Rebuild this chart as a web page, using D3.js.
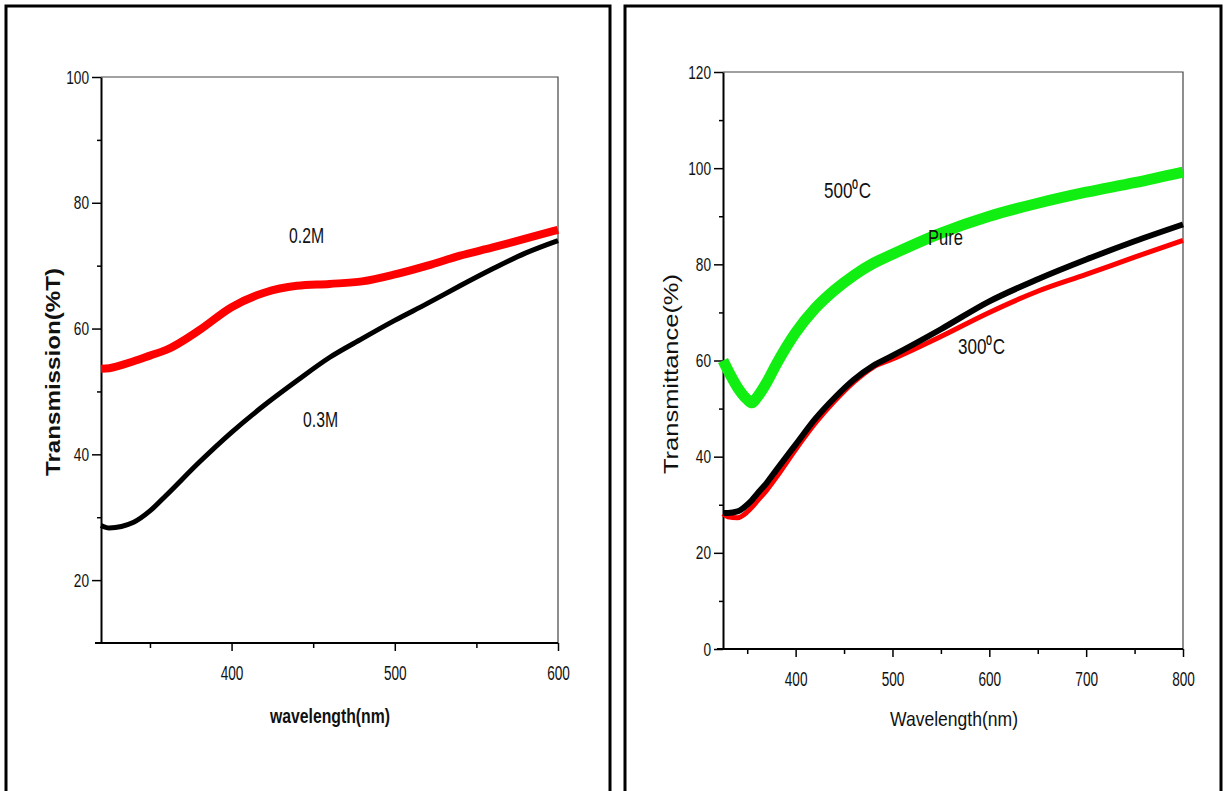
<!DOCTYPE html>
<html>
<head>
<meta charset="utf-8">
<style>
    body { margin: 0; background: #fff; }
    svg text { font-family: "Liberation Sans", Arial, sans-serif; fill: #111; }
    .axis path, .axis line { stroke: #000; }
    .frame { fill: none; stroke: #000; }
</style>
</head>
<body>
<svg id="chart" width="1225" height="791"></svg>
<script src="https://cdnjs.cloudflare.com/ajax/libs/d3/7.8.5/d3.min.js"></script>
<script>
// left panel: molarity
var leftWave = [320, 325, 340, 350, 360, 380, 400, 420, 440, 460, 480, 500, 520, 540, 560, 580, 600];
var red02M   = [53.6, 53.7, 54.8, 55.7, 56.6, 59.7, 63.4, 65.7, 66.8, 67.1, 67.5, 68.6, 70.0, 71.6, 72.9, 74.3, 75.7];
var black03M = [28.7, 28.3, 29.2, 31.0, 33.5, 38.7, 43.5, 47.8, 51.7, 55.4, 58.4, 61.3, 64.0, 66.8, 69.5, 72.0, 74.0];

// right panel: annealing
var rightWave = [325, 330, 340, 350, 355, 360, 370, 380, 400, 420, 440, 460, 480, 500, 550, 600, 650, 700, 750, 800];
var green500 = [60.0, 58.0, 54.4, 51.9, 51.2, 52.3, 55.4, 59.2, 65.8, 70.8, 74.6, 77.7, 80.2, 82.1, 86.5, 90.0, 92.7, 95.0, 97.0, 99.2];
var pure     = [28.3, 28.3, 28.6, 30.0, 31.0, 32.2, 34.5, 37.2, 42.5, 47.8, 52.2, 56.0, 58.9, 61.0, 66.5, 72.3, 76.9, 81.0, 84.8, 88.3];
var red300   = [28.1, 27.5, 27.3, 28.5, 29.5, 30.7, 33.0, 35.7, 41.5, 46.9, 51.5, 55.5, 58.6, 60.3, 65.0, 70.0, 74.4, 77.9, 81.5, 85.0];

var svg = d3.select('#chart');

// squeeze or stretch text to a given width (the original uses a narrow font)
function fit(sel, w) {
    sel.attr('textLength', w).attr('lengthAdjust', 'spacingAndGlyphs');
}
function squeeze(sel, k) {
    sel.each(function () {
        var len = this.getComputedTextLength();
        d3.select(this).attr('textLength', len * k).attr('lengthAdjust', 'spacingAndGlyphs');
    });
}

// outer panel borders
svg.append('rect').attr('class', 'frame').attr('x', 6).attr('y', 6).attr('width', 604).attr('height', 800).attr('stroke-width', 3);
svg.append('rect').attr('class', 'frame').attr('x', 625).attr('y', 6).attr('width', 596).attr('height', 800).attr('stroke-width', 3);

function panel(opt) {
    var x = d3.scaleLinear().domain(opt.xDomain).range([opt.x0, opt.x1]);
    var y = d3.scaleLinear().domain(opt.yDomain).range([opt.y1, opt.y0]);
    var g = svg.append('g');

    // top and right frame
    g.append('path')
        .attr('d', 'M' + opt.x0 + ',' + opt.y0 + 'H' + opt.x1 + 'V' + opt.y1)
        .attr('fill', 'none').attr('stroke', '#444').attr('stroke-width', 1.2);

    // minor ticks
    var xMinor = g.append('g').attr('class', 'axis').attr('transform', 'translate(0,' + opt.y1 + ')')
        .call(d3.axisBottom(x).tickValues(opt.xMinor).tickSize(5).tickFormat(''));
    xMinor.select('.domain').remove();
    xMinor.selectAll('line').attr('stroke-width', 1.5);
    var yMinor = g.append('g').attr('class', 'axis').attr('transform', 'translate(' + opt.x0 + ',0)')
        .call(d3.axisLeft(y).tickValues(opt.yMinor).tickSize(4).tickFormat(''));
    yMinor.select('.domain').remove();
    yMinor.selectAll('line').attr('stroke-width', 1.5);

    var xAxis = g.append('g').attr('class', 'axis').attr('transform', 'translate(0,' + opt.y1 + ')')
        .call(d3.axisBottom(x).tickValues(opt.xTicks).tickSize(8).tickSizeOuter(0).tickPadding(15).tickFormat(d3.format('d')));
    xAxis.select('.domain').attr('d', 'M' + (opt.x0 - 6) + ',0H' + opt.x1).attr('stroke-width', 2);
    xAxis.selectAll('line').attr('stroke-width', 1.5);
    xAxis.selectAll('text').attr('font-size', 20).style('font-family', null).attr('fill', '#111');
    squeeze(xAxis.selectAll('text'), 0.68);

    var yAxis = g.append('g').attr('class', 'axis').attr('transform', 'translate(' + opt.x0 + ',0)')
        .call(d3.axisLeft(y).tickValues(opt.yTicks).tickSize(9).tickSizeOuter(0).tickPadding(3).tickFormat(d3.format('d')));
    yAxis.select('.domain').attr('stroke-width', 2);
    yAxis.selectAll('line').attr('stroke-width', 1.5);
    yAxis.selectAll('text').attr('font-size', 19).style('font-family', null).attr('fill', '#111');
    squeeze(yAxis.selectAll('text'), 0.72);

    opt.series.forEach(function (s) {
        var line = d3.line().curve(d3.curveMonotoneX)
            .x(function (d, i) { return x(opt.wave[i]); })
            .y(function (d) { return y(d); });
        g.append('path').datum(s.values)
            .attr('d', line)
            .attr('fill', 'none')
            .attr('stroke', s.color)
            .attr('stroke-width', s.width)
            .attr('stroke-linecap', 'butt');
    });

    var yt = g.append('text')
        .attr('transform', 'translate(' + opt.yTitle.x + ',' + opt.yTitle.y + ') rotate(-90)')
        .attr('text-anchor', 'middle')
        .attr('font-size', opt.yTitle.size)
        .attr('font-weight', opt.yTitle.weight)
        .text(opt.yTitle.text);
    fit(yt, opt.yTitle.w);
    var xt = g.append('text')
        .attr('x', opt.xTitle.x).attr('y', opt.xTitle.y)
        .attr('text-anchor', 'middle')
        .attr('font-size', opt.xTitle.size)
        .attr('font-weight', opt.xTitle.weight)
        .text(opt.xTitle.text);
    fit(xt, opt.xTitle.w);

    return {x: x, y: y, g: g};
}

var left = panel({
    x0: 101, x1: 558, y0: 77, y1: 643,
    xDomain: [320, 600], yDomain: [10, 100],
    xTicks: [400, 500, 600], xMinor: [350, 450, 550],
    yTicks: [20, 40, 60, 80, 100], yMinor: [30, 50, 70, 90],
    wave: leftWave,
    series: [
        {values: red02M, color: '#ff0000', width: 8},
        {values: black03M, color: '#000', width: 5}
    ],
    yTitle: {text: 'Transmission(%T)', x: 60, y: 372, size: 20, weight: 'bold', w: 208},
    xTitle: {text: 'wavelength(nm)', x: 330, y: 723, size: 21, weight: 'bold', w: 120}
});

function label(g, x, y, txt, w, size) {
    var t = g.append('text').attr('x', x).attr('y', y).attr('font-size', size || 22).text(txt);
    fit(t, w);
    return t;
}
label(left.g, 289, 243, '0.2M', 35);
label(left.g, 303, 427, '0.3M', 35);

var right = panel({
    x0: 723, x1: 1183, y0: 72, y1: 649,
    xDomain: [325, 800], yDomain: [0, 120],
    xTicks: [400, 500, 600, 700, 800], xMinor: [350, 450, 550, 650, 750],
    yTicks: [0, 20, 40, 60, 80, 100, 120], yMinor: [10, 30, 50, 70, 90, 110],
    wave: rightWave,
    series: [
        {values: green500, color: '#11ee11', width: 11},
        {values: red300, color: '#ff0000', width: 5},
        {values: pure, color: '#000', width: 6}
    ],
    yTitle: {text: 'Transmittance(%)', x: 678, y: 374, size: 20, weight: 'normal', w: 200},
    xTitle: {text: 'Wavelength(nm)', x: 954, y: 726, size: 21, weight: 'normal', w: 128}
});

// temperature labels, superscript zero as a single glyph
label(right.g, 824, 198, '500\u2070C', 47);
label(right.g, 958, 354, '300\u2070C', 47);
label(right.g, 928, 245, 'Pure', 35);
</script>
</body>
</html>
